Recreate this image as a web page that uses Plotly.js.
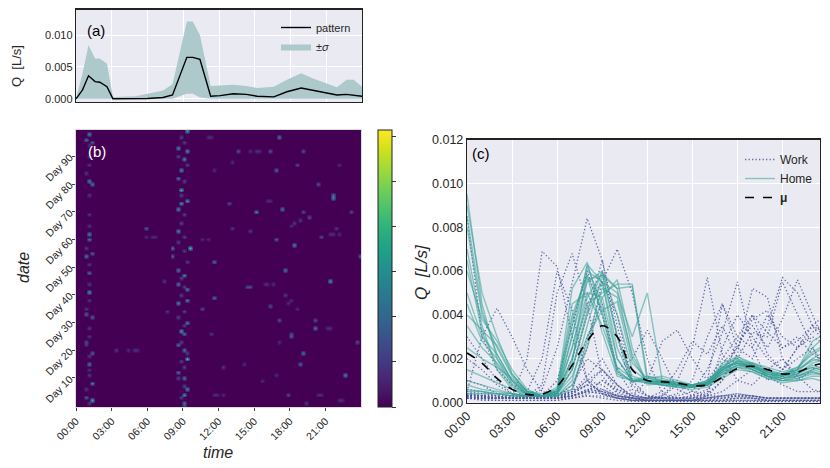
<!DOCTYPE html>
<html><head><meta charset="utf-8">
<script src="https://cdn.plot.ly/plotly-3.0.1.min.js"></script>
<style>html,body{margin:0;padding:0;background:#fff}#chart{width:830px;height:468px}</style>
</head><body><div id="chart"></div>
<script>
// ---------- Panel (a): daily pattern (values in 1e-3 L/s) ----------
const patternHours = [0,0.55,1.05,1.6,2.0,2.6,3.1,4,5,6,7.3,8.1,9.3,9.8,10.4,11.3,12.1,13.2,14.3,15.2,16.6,17.7,18.9,19.9,21.9,22.7,23.3,24];
const patternQ     = [0,1.4,3.6,2.7,2.6,1.9,0,0,0,0.05,0.2,0.6,6.5,6.5,6.2,0.4,0.5,0.8,0.7,0.4,0.3,1.1,1.7,1.3,0.6,0.7,0.55,0.4];
const sigmaUpper   = [0,4.0,8.4,6.3,6.3,5.5,0.3,0.3,0.4,0.8,1.3,2.3,12.1,12.1,10.0,2.0,2.1,2.2,2.0,1.7,1.9,3.0,4.0,3.2,1.8,3.0,3.0,1.9];
const sigmaLower   = [0,0,0,0,0,0,0,0,0,0,0,0,0.8,0.8,0.2,0,0,0,0,0,0,0,0,0,0,0,0,0];

// ---------- Panel (b): heatmap bright spots [day, hour, Q L/s] ----------
const spotDay  = [98,96,95,81,80,62,60,54,55,48,41,33,32,23,19,15,8,2,3,
  99,93,92,89,85,82,78,74,73,71,63,57,57,54,49,47,44,42,38,37,30,27,26,22,20,17,12,10,6,4,1,
  64,52,39,35,34,20,45,26,
  97,92,92,92,87,85,80,75,76,70,71,70,68,73,63,60,58,54,61,64,64,70,
  49,45,43,43,36,31,31,28,25,26,19,15,11,4,14,1,40,23,
  92,92,92,97,97,88,85,61,61,61,60,60,20,20,20,43,44,44,44,4,4,4,4,4,2,2,62,62,62,28,28,65,66,67,74,74,87,37,38,35,15,9,11,23,
  1,6,11,13,18,22,25,28,35,38,44,51,57,65,69,76,84,87,90,94,
  0,3,7,10,14,16,19,23,29,32,34,40,43,46,52,56,59,61,66,69,76,81,87,90,95,97];
const spotHour = [1.0,0.95,1.25,1.0,1.25,1.1,1.2,0.95,1.3,1.2,1.15,0.95,1.25,0.95,1.25,1.1,1.25,1.3,0.95,
  9.4,8.6,9.3,9.1,8.9,8.6,8.9,9.45,8.9,8.6,8.7,8.0,9.5,8.0,8.6,9.1,8.5,9.3,9.25,8.6,9.25,8.75,9.1,8.6,9.2,9.3,8.7,9.0,9.3,9.1,9.1,
  5.8,11.5,11.7,10.6,7.5,3.35,7.3,11.3,
  17.2,13.6,16.3,19.0,18.6,16.8,20.4,21.55,21.7,15.2,17.25,19.2,19.6,12.9,14.5,16.8,18.4,23.9,20.7,13.0,21.8,23.1,
  17.5,21.4,14.25,14.5,16.4,17.0,20.1,20.1,18.1,18.2,19.2,18.9,22.7,17.8,12.3,19.4,17.5,23.65,
  14.6,15.0,15.4,11.0,11.4,13.1,11.6,5.9,6.3,6.7,10.6,11.0,4.4,4.8,5.2,14.6,15.8,16.2,16.6,11.5,11.9,12.3,20.3,20.7,22.0,22.4,21.3,21.7,22.1,21.0,21.4,18.0,18.4,18.8,16.0,16.4,22.0,17.8,18.2,18.6,14.0,15.7,16.9,17.2,
  1.0,0.9,1.1,1.0,1.2,0.9,1.1,1.0,0.9,1.2,1.0,1.1,0.9,1.0,1.2,1.1,0.9,1.0,1.1,1.0,
  9.0,8.8,9.2,8.7,9.1,8.9,9.3,8.8,9.0,8.7,9.2,8.9,9.1,8.8,9.3,9.0,8.7,9.2,8.9,9.1,8.8,9.0,9.3,8.7,9.1,8.9];
const spotQ = [0.006,0.005,0.004,0.006,0.005,0.006,0.005,0.005,0.004,0.005,0.007,0.004,0.004,0.003,0.004,0.005,0.006,0.008,0.004,
  0.007,0.006,0.006,0.006,0.006,0.005,0.0085,0.007,0.007,0.006,0.006,0.005,0.009,0.004,0.005,0.006,0.005,0.006,0.006,0.006,0.006,0.007,0.005,0.005,0.005,0.009,0.005,0.005,0.006,0.007,0.005,
  0.004,0.005,0.005,0.003,0.002,0.002,0.002,0.002,
  0.005,0.003,0.003,0.003,0.003,0.004,0.003,0.006,0.005,0.006,0.005,0.003,0.003,0.003,0.002,0.004,0.006,0.004,0.003,0.002,0.002,0.003,
  0.005,0.007,0.003,0.003,0.003,0.003,0.003,0.005,0.004,0.003,0.005,0.004,0.006,0.003,0.002,0.002,0.002,0.003,
  0.0015,0.0015,0.0015,0.0015,0.0015,0.0015,0.0015,0.0015,0.0015,0.0015,0.0015,0.0015,0.0015,0.0015,0.0015,0.0015,0.0015,0.0015,0.0015,0.0015,0.0015,0.0015,0.0015,0.0015,0.0015,0.0015,0.0015,0.0015,0.0015,0.0015,0.0015,0.0015,0.002,0.002,0.0015,0.0015,0.0015,0.0015,0.0015,0.0015,0.0015,0.0015,0.0015,0.0015,
  0.002,0.002,0.002,0.002,0.002,0.002,0.002,0.002,0.002,0.002,0.002,0.002,0.002,0.002,0.002,0.002,0.002,0.002,0.002,0.002,
  0.0025,0.0025,0.0025,0.0025,0.0025,0.0025,0.0025,0.0025,0.0025,0.0025,0.0025,0.0025,0.0025,0.0025,0.0025,0.0025,0.0025,0.0025,0.0025,0.0025,0.0025,0.0025,0.0025,0.0025,0.0025,0.0025];
const nDays = 100, slotsPerHour = 4;
const timeTicks = [0,3,6,9,12,15,18,21];
const timeLabels = ['00:00','03:00','06:00','09:00','12:00','15:00','18:00','21:00'];
const dayTicks = [10,20,30,40,50,60,70,80,90];
const dayLabels = ['Day 10','Day 20','Day 30','Day 40','Day 50','Day 60','Day 70','Day 80','Day 90'];

// ---------- Panel (c): daily curves (values in 1e-3 L/s) ----------
const curveHours = [0,1,2,3,4,5,6,7,8,9,10,11,12,13,14,15,16,17,18,19,20,21,22,23,23.5];
const homeCurves = [
 [9.5,4.5,2.0,0.8,0.4,0.3,0.4,2.5,5.5,6.0,3.0,1.0,0.9,1.0,0.9,0.8,0.9,1.5,1.9,1.6,1.3,1.2,1.5,2.0,2.2],
 [7.0,3.5,1.5,0.6,0.3,0.3,0.6,3.5,6.2,4.5,1.5,0.9,1.1,1.0,0.8,0.7,0.8,1.6,1.8,1.5,1.2,1.1,1.3,1.8,1.9],
 [5.0,3.0,2.2,1.0,0.4,0.3,0.3,1.0,3.5,5.8,5.2,2.0,0.9,0.8,0.7,0.7,0.9,1.4,1.7,1.7,1.4,1.2,1.4,1.6,1.5],
 [0.6,0.5,0.4,0.3,0.3,0.3,0.5,2.0,4.8,5.9,5.2,5.3,1.0,0.9,0.8,0.7,0.9,1.7,2.0,1.5,1.2,1.0,1.1,1.3,1.3],
 [8.0,4.0,2.5,1.2,0.5,0.3,0.4,3.0,6.3,5.5,2.0,1.0,1.2,1.1,0.9,0.8,0.9,1.3,1.6,1.7,1.4,1.3,1.6,2.2,2.4],
 [3.5,2.5,1.8,0.9,0.4,0.3,0.5,4.5,5.0,3.5,1.6,1.1,1.0,0.8,0.7,0.7,0.9,1.5,1.8,1.6,1.3,1.2,1.3,1.6,1.5],
 [0.5,0.5,0.4,0.4,0.3,0.3,0.4,1.5,4.0,5.5,5.0,3.0,5.0,1.0,0.8,0.7,0.8,1.2,1.6,1.5,1.2,1.0,1.0,1.2,1.2],
 [6.0,3.8,2.8,1.5,0.6,0.3,0.4,2.0,4.5,5.0,5.4,5.4,1.2,1.0,0.9,0.8,1.0,1.6,2.1,1.8,1.4,1.3,1.5,2.5,2.8],
 [1.0,0.8,0.6,0.4,0.3,0.3,0.6,5.2,6.4,4.0,1.3,1.0,1.1,1.2,1.0,0.8,0.8,1.3,1.6,1.4,1.1,1.0,1.2,1.5,1.4],
 [4.5,2.8,2.0,1.0,0.5,0.3,0.3,0.8,2.5,4.8,5.6,2.5,0.8,0.9,0.8,0.7,0.8,1.4,1.9,1.8,1.5,1.3,1.5,1.9,2.0],
 [2.5,2.0,1.6,1.1,0.5,0.4,0.5,3.0,5.6,5.8,3.0,1.2,1.0,0.9,0.8,0.7,0.8,1.5,1.8,1.6,1.3,1.1,1.3,1.7,1.6],
 [9.0,5.0,3.0,1.3,0.5,0.3,0.4,1.5,4.2,6.0,4.0,1.5,1.0,0.9,0.8,0.8,1.0,1.6,1.8,1.7,1.4,1.2,1.4,2.0,1.9],
 [0.8,0.6,0.5,0.4,0.3,0.3,0.5,2.5,5.0,4.8,2.0,1.0,1.0,0.9,0.8,0.8,0.9,1.6,2.0,1.7,1.3,1.1,1.2,1.5,1.6],
 [6.5,3.2,1.7,0.7,0.4,0.3,0.4,1.2,3.0,4.2,4.6,1.8,1.1,1.0,0.9,0.8,0.8,1.3,1.7,1.8,1.6,1.4,1.6,2.3,2.5],
 [0.4,0.4,0.4,0.3,0.3,0.3,0.4,1.8,6.0,5.5,2.5,1.0,0.9,0.8,0.7,0.6,0.7,1.1,1.5,1.4,1.1,0.9,1.0,1.1,1.0],
 [4.0,3.3,2.6,1.3,0.5,0.3,0.4,3.8,5.8,4.2,1.4,1.0,1.0,0.9,0.8,0.7,0.8,1.4,1.7,1.5,1.2,1.1,1.2,1.4,1.3],
 [8.5,4.2,2.2,1.0,0.4,0.3,0.3,0.6,2.8,5.2,4.8,2.2,0.9,0.8,0.8,0.7,0.8,1.5,1.9,1.6,1.4,1.2,1.5,2.8,3.0],
 [1.5,1.2,0.9,0.6,0.4,0.3,0.7,4.0,5.8,3.2,1.2,1.0,1.0,1.0,0.9,0.8,0.9,1.8,2.1,1.7,1.2,1.0,1.1,1.4,1.3]
];
const workCurves = [
 [0.3,0.2,0.2,0.3,2.0,6.9,6.2,3.0,1.0,0.4,0.2,0.1,0.1,0.1,0.1,0.1,0.1,0.2,0.2,0.2,0.1,0.1,0.1,0.1,0.1],
 [0.2,0.2,0.2,0.2,0.3,0.6,2.5,5.5,8.4,6.5,3.0,0.6,0.3,0.2,0.1,0.1,0.2,0.3,0.3,0.2,0.2,0.2,0.2,0.2,0.2],
 [0.4,0.3,0.2,0.2,0.2,0.3,0.4,0.6,2.5,5.5,7.0,5.0,2.0,0.4,0.2,0.2,0.3,0.3,0.4,0.3,0.2,0.2,0.2,0.2,0.2],
 [0.5,3.0,4.3,3.0,1.5,0.5,0.3,0.3,0.5,1.0,0.6,0.3,0.2,0.2,0.2,0.2,0.2,0.3,0.3,0.3,0.2,0.2,0.2,0.2,0.2],
 [0.2,0.2,0.2,0.2,0.2,0.2,0.3,0.5,1.0,1.5,0.8,0.3,0.2,0.3,1.0,2.5,5.7,2.2,1.0,0.8,1.5,2.0,1.2,0.6,0.5],
 [0.3,0.3,0.2,0.2,0.2,0.2,0.3,0.4,0.8,0.6,0.3,0.2,0.2,0.2,0.3,0.5,1.5,3.2,5.5,2.5,1.0,1.5,2.5,3.0,2.8],
 [0.2,0.2,0.2,0.2,0.2,0.2,0.2,0.5,3.0,4.5,1.5,0.4,0.2,0.2,0.2,0.2,0.4,1.0,2.2,5.2,4.8,2.0,1.0,1.5,1.8],
 [1.0,0.8,0.4,0.3,0.2,0.2,0.3,0.5,0.8,0.5,0.3,0.2,0.2,0.2,0.2,0.3,0.6,1.5,2.5,2.0,3.5,5.7,5.0,3.5,3.0],
 [0.6,0.5,0.3,0.2,0.2,0.2,0.2,0.3,0.5,1.0,0.5,0.2,0.1,0.1,0.1,0.1,0.3,1.0,2.8,3.5,2.5,3.8,5.6,4.0,3.2],
 [0.3,0.3,0.3,0.3,0.5,2.0,6.0,4.2,1.0,0.4,0.2,0.2,0.1,0.1,0.1,0.1,0.2,0.3,0.4,0.3,0.2,0.2,0.2,0.2,0.2],
 [2.0,1.5,0.8,0.4,0.3,0.3,0.5,1.5,4.0,6.5,3.5,0.8,0.3,0.2,0.2,0.3,1.0,2.0,3.0,4.0,3.2,2.5,2.8,3.5,3.3],
 [0.3,0.3,0.2,0.2,0.2,0.2,0.3,0.5,1.2,2.0,0.8,0.3,1.0,2.8,3.3,2.0,1.0,4.5,3.0,2.5,4.0,3.0,2.5,3.5,3.8],
 [0.3,0.2,0.2,0.2,0.2,0.2,0.2,0.2,0.3,0.3,0.2,0.1,0.05,0.05,0.05,0.05,0.05,0.05,0.05,0.05,0.05,0.05,0.05,0.05,0.05],
 [8.5,3.0,1.5,0.8,0.4,0.3,0.2,0.3,0.6,0.5,0.3,0.2,0.1,0.1,0.1,0.1,0.1,0.1,0.2,0.2,0.1,0.1,0.1,0.1,0.1],
 [0.2,0.2,0.2,0.2,0.2,0.3,1.0,3.5,6.0,4.0,1.5,2.0,3.3,2.0,0.6,0.3,0.3,0.5,1.0,1.5,1.2,0.8,0.5,0.5,0.5],
 [0.4,0.3,0.2,0.2,0.2,0.2,0.3,0.8,2.0,1.5,0.6,0.3,0.2,0.2,0.4,1.0,3.0,4.5,2.5,3.8,4.2,2.5,3.0,2.2,2.0],
 [0.2,0.1,0.1,0.1,0.1,0.1,0.1,0.2,0.4,0.6,0.3,0.2,0.1,0.1,0.1,0.1,0.1,0.1,0.2,0.2,0.1,0.1,0.1,0.1,0.1],
 [0.3,0.3,0.2,0.2,0.3,0.8,5.0,6.8,4.5,1.2,0.4,0.2,0.1,0.1,0.1,0.1,0.2,0.2,0.3,0.3,0.2,0.2,0.2,0.2,0.2],
 [0.2,0.15,0.1,0.1,0.1,0.1,0.1,0.2,0.3,0.2,0.1,0.05,0.03,0.03,0.03,0.03,0.03,0.03,0.05,0.05,0.05,0.03,0.03,0.03,0.03],
 [0.4,0.3,0.3,0.2,0.2,0.2,0.3,0.4,0.8,1.5,0.8,0.2,0.1,0.1,0.1,0.2,0.5,1.8,2.5,4.0,2.2,1.5,2.0,2.5,2.0],
 [0.3,0.2,0.2,0.2,0.2,0.2,0.2,0.4,1.0,0.8,0.3,0.2,0.2,0.5,1.5,2.8,2.2,3.5,2.0,3.2,3.0,5.5,4.0,2.5,1.8],
 [3.0,2.0,1.0,0.4,0.2,0.2,0.2,0.3,0.5,0.4,0.2,0.1,0.1,0.1,0.1,0.1,0.1,0.1,0.1,0.1,0.1,0.1,0.1,0.1,0.1],
 [0.3,0.3,0.2,0.2,0.2,0.3,0.5,2.0,4.5,5.5,4.0,1.0,0.3,0.2,0.2,0.2,0.2,0.2,0.3,0.3,0.2,0.2,0.2,0.2,0.2],
 [0.2,0.2,0.2,0.2,0.2,0.2,0.2,0.3,0.5,0.4,0.2,0.1,0.1,0.3,0.8,0.5,0.3,2.5,4.0,3.0,2.0,1.5,2.5,3.2,3.5],
 [0.5,0.4,0.3,0.2,0.2,0.2,0.2,0.3,0.6,0.5,0.2,0.1,0.05,0.05,0.05,0.05,0.05,0.05,0.1,0.1,0.05,0.05,0.05,0.05,0.05]
];
const meanCurve = [2.26,1.8,1.1,0.6,0.37,0.38,0.75,1.7,2.8,3.5,3.0,1.5,1.0,0.95,0.88,0.77,0.8,1.15,1.55,1.65,1.5,1.3,1.38,1.68,1.76];
const qTicks = [0,0.002,0.004,0.006,0.008,0.010,0.012];

// ---------- build ----------
const toLs = a => a.map(v => v * 0.001);
const FONT = 'Liberation Sans, Arial, sans-serif';
const traces = [];

// (a)
traces.push({x: patternHours, y: toLs(sigmaLower), xaxis:'x', yaxis:'y', mode:'lines',
  line:{width:0, color:'rgba(0,0,0,0)'}, showlegend:false, hoverinfo:'skip'});
traces.push({x: patternHours, y: toLs(sigmaUpper), xaxis:'x', yaxis:'y', mode:'lines', fill:'tonexty',
  fillcolor:'#adc9cc', line:{width:0, color:'#adc9cc'}, name:'±<i>σ</i>', legend:'legend', legendrank:2});
traces.push({x: patternHours, y: toLs(patternQ), xaxis:'x', yaxis:'y', mode:'lines',
  line:{color:'#000', width:1.4}, name:'pattern', legend:'legend', legendrank:1});

// (b)
const slotX = [];
for (let c = 0; c < 24 * slotsPerHour; c++) slotX.push((c + 0.5) / slotsPerHour);
const dayY = [];
for (let d = 0; d < nDays; d++) dayY.push(d);
const z = dayY.map(() => slotX.map(() => 0));
for (let i = 0; i < spotDay.length; i++) {
  const r = Math.min(nDays - 1, Math.max(0, Math.round(spotDay[i])));
  const c = Math.min(slotX.length - 1, Math.floor(spotHour[i] * slotsPerHour));
  z[r][c] = Math.max(z[r][c], spotQ[i]);
}
traces.push({type:'heatmap', x: slotX, y: dayY, z: z, xaxis:'x2', yaxis:'y2', zsmooth:'best',
  colorscale:'Viridis', zmin:0, zmax:0.0123, showscale:true, hoverinfo:'skip',
  colorbar:{x:378/830, xanchor:'left', xref:'paper', y:1-268.5/468, yanchor:'middle', len:277/468, lenmode:'fraction',
    thickness:14, xpad:0, ypad:0, outlinewidth:1, outlinecolor:'#222', ticks:'outside', ticklen:4, tickcolor:'#333',
    showticklabels:false, tickmode:'array', tickvals:qTicks}});

// (c)
workCurves.forEach((w, i) => traces.push({x: curveHours, y: toLs(w), xaxis:'x3', yaxis:'y3', mode:'lines',
  line:{color:'#4a5799', width:1.3, dash:'1.3px,2.2px'}, opacity:0.85, name:'Work', legendgroup:'work', legend:'legend2',
  legendrank:1, showlegend: i === 0}));
homeCurves.forEach((h, i) => traces.push({x: curveHours, y: toLs(h), xaxis:'x3', yaxis:'y3', mode:'lines',
  line:{color:'rgba(52,160,150,0.55)', width:1.4}, name:'Home', legendgroup:'home', legend:'legend2',
  legendrank:2, showlegend: i === 0}));
traces.push({x: curveHours, y: toLs(meanCurve), xaxis:'x3', yaxis:'y3', mode:'lines',
  line:{color:'#000', width:1.6, dash:'dash', shape:'spline'}, name:'<b>μ</b>', legend:'legend2', legendrank:3});

const gridAx = {showgrid:true, gridcolor:'#ffffff', gridwidth:1, zeroline:false, showline:true, mirror:true,
  linecolor:'#222', linewidth:1.2, ticks:''};

function note(text, px, py, size, color, angle) {
  return {text:text, x:px/830, y:1-py/468, xref:'paper', yref:'paper', xanchor:'center', yanchor:'middle',
    showarrow:false, textangle:angle || 0, font:{size:size, color:color}};
}

const layout = {
  width:830, height:468, margin:{l:0,r:0,t:0,b:0}, paper_bgcolor:'#fff', plot_bgcolor:'#eaeaf2',
  font:{family:FONT, color:'#262626'},
  xaxis: Object.assign({}, gridAx, {domain:[76/830, 362/830], anchor:'y', range:[0,24], tickmode:'array',
    tickvals:timeTicks, showticklabels:false}),
  yaxis: Object.assign({}, gridAx, {domain:[1-102/468, 1-9.5/468], anchor:'x', range:[-0.0005,0.014], tickmode:'array',
    tickvals:[0,0.005,0.010], ticktext:['0.000','0.005','0.010'], tickfont:{size:11, color:'#262626'}}),
  xaxis2: {domain:[76/830, 361/830], anchor:'y2', range:[0,24], tickmode:'array', tickvals:timeTicks, ticktext:timeLabels,
    tickangle:-45, ticks:'outside', ticklen:3, tickcolor:'#444', showgrid:false, zeroline:false, showline:true,
    linecolor:'#ddd', mirror:true, tickfont:{size:10.5, color:'#262626'}},
  yaxis2: {domain:[1-407/468, 1-130/468], anchor:'x2', range:[-0.5,99.5], tickmode:'array', tickvals:dayTicks,
    ticktext:dayLabels, tickangle:-45, ticks:'outside', ticklen:3, tickcolor:'#444', showgrid:false, zeroline:false,
    showline:true, linecolor:'#ddd', mirror:true, tickfont:{size:10.5, color:'#262626'}},
  xaxis3: Object.assign({}, gridAx, {domain:[467/830, 820/830], anchor:'y3', range:[0,23.5], tickmode:'array',
    tickvals:timeTicks, ticktext:timeLabels, tickangle:-45, tickfont:{size:12.5, color:'#262626'}}),
  yaxis3: Object.assign({}, gridAx, {domain:[1-402.5/468, 1-139.5/468], anchor:'x3', range:[0,0.012], tickmode:'array',
    tickvals:qTicks, ticktext:qTicks.map(v => v.toFixed(3)), tickfont:{size:12.5, color:'#262626'}}),
  legend: {x:276/830, y:1-13/468, xanchor:'left', yanchor:'top', bgcolor:'rgba(0,0,0,0)', font:{size:11, color:'#262626'},
    tracegroupgap:0, itemwidth:30, traceorder:'normal'},
  legend2: {x:740/830, y:1-145/468, xanchor:'left', yanchor:'top', bgcolor:'rgba(0,0,0,0)', font:{size:12, color:'#262626'},
    tracegroupgap:0, itemwidth:30, traceorder:'normal'},
  annotations: [
    {text:'(a)', x:85/830, y:1-31/468, xref:'paper', yref:'paper', xanchor:'left', yanchor:'middle', showarrow:false,
      font:{size:15, color:'#000'}},
    {text:'(b)', x:86/830, y:1-152/468, xref:'paper', yref:'paper', xanchor:'left', yanchor:'middle', showarrow:false,
      font:{size:15, color:'#fff'}},
    {text:'(c)', x:470/830, y:1-154/468, xref:'paper', yref:'paper', xanchor:'left', yanchor:'middle', showarrow:false,
      font:{size:15, color:'#000'}},
    note('Q  [L/s]', 17, 66, 13, '#262626', -90),
    note('<i>date</i>', 23, 268, 16, '#262626', -90),
    note('<i>time</i>', 218, 452, 16, '#262626', 0),
    note('<i>Q</i>  <i>[L/s]</i>', 421, 272, 17, '#262626', -90)
  ]
};
Plotly.newPlot('chart', traces, layout, {staticPlot:true, displayModeBar:false});
</script></body></html>
